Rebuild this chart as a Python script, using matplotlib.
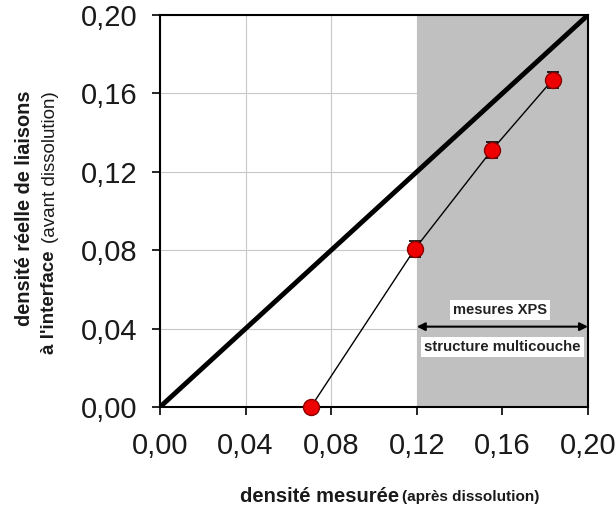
import matplotlib
matplotlib.use("Agg")
import matplotlib.pyplot as plt
import numpy as np

plt.rcParams['font.family'] = ['Liberation Sans', 'DejaVu Sans']

# data
x_meas = [0.0705, 0.119, 0.155, 0.1835]
y_real = [0.0, 0.0805, 0.131, 0.167]
y_err = [0.0, 0.004, 0.004, 0.004]
diag = [0.0, 0.20]
ticks = [0.00, 0.04, 0.08, 0.12, 0.16, 0.20]
tick_labels = ['0,00', '0,04', '0,08', '0,12', '0,16', '0,20']
xps_start, xps_end = 0.12, 0.20

W, H = 616, 508
fig = plt.figure(figsize=(W/100, H/100), dpi=100)
ax = fig.add_axes([160/W, 1-407/H, (588-160)/W, (407-15)/H])

ax.set_xlim(0, 0.20)
ax.set_ylim(0, 0.20)
ax.set_xticks(ticks)
ax.set_yticks(ticks)
ax.set_xticklabels(tick_labels, fontsize=21, color='#1a1a1a')
ax.set_yticklabels(tick_labels, fontsize=21, color='#1a1a1a')
ax.tick_params(axis='both', direction='out', length=6, width=1.2, color='black')
ax.tick_params(axis='x', pad=12)
ax.tick_params(axis='y', pad=10)
for s in ax.spines.values():
    s.set_linewidth(1.5)
    s.set_color('black')

ax.grid(True, color='#c8c8c8', linewidth=0.8, zorder=0)
ax.set_axisbelow(True)

ax.axvspan(xps_start, xps_end, color='#c0c0c0', zorder=1, lw=0)

ax.plot(diag, diag, color='black', lw=3.5, zorder=3, solid_capstyle='butt')
ax.plot(x_meas, y_real, color='black', lw=1.0, zorder=3)
ax.errorbar(x_meas, y_real, yerr=y_err, fmt='none', ecolor='black',
            elinewidth=1.2, capsize=4, capthick=1.2, zorder=4)
ax.plot(x_meas, y_real, 'o', markersize=11.5, markerfacecolor='#ee0000',
        markeredgecolor='#8a0000', markeredgewidth=1.0, zorder=5, clip_on=False)

ax.annotate('', xy=(xps_start, 0.041), xytext=(xps_end, 0.041),
            arrowprops=dict(arrowstyle='<|-|>', color='black', lw=1.5,
                            mutation_scale=12, shrinkA=0, shrinkB=0), zorder=6)
ax.text(0.159, 0.0495, 'mesures XPS', ha='center', va='center', fontsize=10.5,
        fontweight='bold', color='#222222', zorder=7,
        bbox=dict(boxstyle='square,pad=0.2', fc='white', ec='none'))
ax.text(0.160, 0.0305, 'structure multicouche', ha='center', va='center', fontsize=10.8,
        fontweight='bold', color='#222222', zorder=7,
        bbox=dict(boxstyle='square,pad=0.2', fc='white', ec='none'))

# x label
fig.text(399/W, 1-497/H, 'densité mesurée', ha='right', va='center',
         fontsize=14.5, fontweight='bold', color='#1a1a1a')
fig.text(402/W, 1-497/H, '(après dissolution)', ha='left', va='center',
         fontsize=11, fontweight='bold', color='#1a1a1a')

# y label
fig.text(25/W, 1-208/H, 'densité réelle de liaisons', rotation=90, ha='center',
         va='center', fontsize=14.3, fontweight='bold', color='#1a1a1a')
fig.text(50/W, 1-354/H, "à l'interface", rotation=90, ha='center',
         va='bottom', fontsize=13.5, fontweight='bold', color='#1a1a1a')
fig.text(51/W, 1-243/H, '(avant dissolution)', rotation=90, ha='center',
         va='bottom', fontsize=13.5, color='#1a1a1a')

fig.savefig('out.png', dpi=100)
